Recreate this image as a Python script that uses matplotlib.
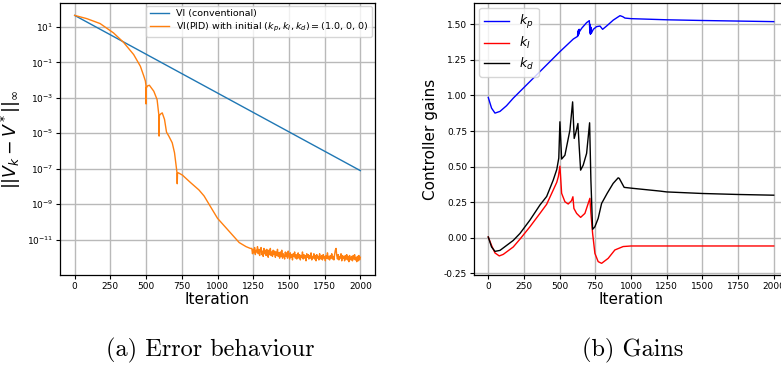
import numpy as np
import matplotlib
matplotlib.use('Agg')
import matplotlib.pyplot as plt
from matplotlib.ticker import NullLocator, FormatStrFormatter

# error of conventional VI (log10 of sup-norm error)
vi_iters = [0, 500, 1000, 1500, 2000]
vi_err_log = [1.65, -0.54, -2.73, -4.92, -7.11]

# error of VI(PID), transient part (log10)
pid_iters = [0, 84, 178, 272, 342, 413, 460, 483, 495, 499, 500, 501, 510, 523, 554, 577,
             586, 589, 591, 593, 601, 613, 629, 643, 659, 683, 699, 711, 716, 718, 720,
             725, 754, 812, 870, 906, 1000, 1117, 1152, 1200, 1230]
pid_err_log = [1.65, 1.47, 1.19, 0.66, 0.13, -0.56, -1.22, -1.75, -2.05, -2.3, -3.35, -2.45,
               -2.33, -2.29, -2.63, -3.10, -3.75, -3.95, -5.16, -4.0, -3.92, -3.85, -4.22,
               -4.94, -5.16, -5.54, -6.10, -6.85, -7.2, -7.85, -7.25, -7.23, -7.36, -7.79,
               -8.2, -8.54, -9.8, -10.85, -11.17, -11.4, -11.5]

# noise floor of VI(PID), every 5 iterations from 1240 to 2000 (log10)
floor_iters = list(range(1240, 2001, 5))
floor_err_log = [
    -11.5, -11.8, -11.55, -11.75, -11.45, -11.85, -11.6, -11.7, -11.4, -11.8,
    -11.55, -11.9, -11.6, -11.45, -11.85, -11.65, -11.95, -11.5, -11.8, -11.6,
    -11.9, -11.55, -11.75, -12.0, -11.6, -11.85, -11.5, -11.9, -11.7, -11.95,
    -11.6, -11.85, -11.65, -12.0, -11.7, -11.9, -11.55, -11.95, -11.75, -12.05,
    -11.7, -11.95, -11.6, -12.05, -11.8, -11.9, -12.1, -11.7, -11.95, -11.75,
    -12.05, -11.65, -11.9, -12.1, -11.75, -12.0, -11.85, -12.15, -11.8, -11.95,
    -11.7, -12.05, -11.85, -12.1, -11.9, -11.75, -12.05, -11.85, -12.15, -11.9,
    -12.0, -11.7, -12.1, -11.85, -12.05, -11.9, -12.2, -11.8, -12.0, -11.85,
    -12.1, -11.9, -12.05, -11.75, -12.15, -11.95, -12.05, -11.8, -12.1, -11.9,
    -12.2, -11.85, -12.05, -11.95, -12.15, -11.8, -12.0, -12.1, -11.9, -12.15,
    -11.85, -12.05, -11.95, -12.2, -11.9, -12.05, -11.75, -12.1, -11.95, -12.15,
    -11.9, -12.05, -11.8, -12.1, -11.95, -12.15, -11.85, -11.6, -11.5, -11.9,
    -12.1, -11.85, -12.15, -11.95, -12.05, -11.8, -12.2, -11.9, -12.05, -11.95,
    -12.2, -11.9, -12.1, -11.85, -12.15, -11.95, -12.25, -11.9, -12.05, -12.15,
    -11.95, -12.2, -11.9, -12.1, -11.85, -12.15, -12.0, -12.25, -11.95, -12.2,
    -11.9, -12.15, -12.0]

# controller gains
kp_iters = [0, 23, 47, 82, 128, 175, 292, 409, 502, 596, 625, 628, 630, 632, 634, 637, 640,
            654, 689, 708, 712, 714, 716, 719, 722, 736, 759, 783, 801, 829, 876, 923, 942,
            958, 1000, 1250, 1500, 1750, 2000]
kp_vals = [0.986, 0.911, 0.876, 0.888, 0.928, 0.981, 1.098, 1.215, 1.308, 1.397, 1.415, 1.45,
           1.42, 1.46, 1.43, 1.465, 1.45, 1.472, 1.512, 1.526, 1.44, 1.5, 1.43, 1.48, 1.437,
           1.465, 1.484, 1.488, 1.465, 1.488, 1.530, 1.561, 1.554, 1.544, 1.540, 1.532, 1.527,
           1.523, 1.519]

ki_iters = [0, 23, 47, 77, 105, 175, 222, 292, 362, 409, 455, 480, 491, 502, 514, 537, 560,
            583, 593, 600, 619, 647, 677, 712, 719, 731, 747, 770, 794, 840, 887, 945, 1000,
            1500, 2000]
ki_vals = [0.005, -0.054, -0.107, -0.128, -0.117, -0.065, -0.01, 0.077, 0.171, 0.235, 0.335,
           0.39, 0.43, 0.503, 0.312, 0.253, 0.237, 0.26, 0.288, 0.206, 0.171, 0.143, 0.171,
           0.277, 0.171, 0.031, -0.11, -0.168, -0.18, -0.145, -0.086, -0.062, -0.058, -0.058,
           -0.058]

kd_iters = [0, 23, 47, 82, 175, 222, 292, 362, 409, 455, 480, 494, 502, 514, 537, 572, 591,
            602, 612, 628, 637, 647, 665, 689, 710, 719, 731, 747, 770, 794, 833, 875, 910,
            918, 952, 1015, 1202, 1250, 1500, 1750, 2000]
kd_vals = [0.005, -0.065, -0.096, -0.089, -0.019, 0.03, 0.124, 0.23, 0.29, 0.405, 0.48, 0.56,
           0.815, 0.553, 0.58, 0.756, 0.955, 0.698, 0.733, 0.803, 0.64, 0.475, 0.51, 0.593,
           0.808, 0.405, 0.059, 0.077, 0.136, 0.241, 0.312, 0.382, 0.421, 0.417, 0.354, 0.347,
           0.328, 0.322, 0.311, 0.304, 0.299]

W, H = 781, 366
fig = plt.figure(figsize=(W / 100, H / 100), dpi=100)

grid_kw = dict(color='#b9b9b9', linewidth=1.0)
tick_fs = 6.5


def style_axes(ax):
    ax.grid(True, **grid_kw)
    ax.set_axisbelow(True)
    ax.tick_params(labelsize=tick_fs, length=3, width=0.8, pad=2)
    for s in ax.spines.values():
        s.set_linewidth(0.9)
    ax.set_xticks(range(0, 2001, 250))
    ax.set_xlim(-100, 2100)
    ax.set_xlabel('Iteration', fontsize=11, labelpad=1)


# (a) error behaviour
ax1 = fig.add_axes([60.4 / W, (H - 275) / H, 314.2 / W, 272 / H])
ax1.plot(vi_iters, 10.0 ** np.array(vi_err_log), color='#1f77b4', lw=1.0,
         label='VI (conventional)')
ax1.plot(pid_iters + floor_iters, 10.0 ** np.array(pid_err_log + floor_err_log),
         color='#ff7f0e', lw=1.0,
         label=r'VI(PID) with initial $(k_p, k_I, k_d) = $(1.0, 0, 0)')
ax1.set_yscale('log')
ax1.set_ylim(10 ** -13.0, 10 ** 2.35)
ax1.set_yticks([10.0 ** e for e in range(1, -12, -2)])
ax1.yaxis.set_minor_locator(NullLocator())
style_axes(ax1)
ax1.set_ylabel(r'$||V_k - V^*||_\infty$', fontsize=12.5, labelpad=3)
ax1.legend(loc='upper right', fontsize=6.8, borderaxespad=0.3, handlelength=2.0,
           labelspacing=0.3, borderpad=0.35, framealpha=0.8)

# (b) gains
ax2 = fig.add_axes([474 / W, (H - 275) / H, 314 / W, 272 / H])
ax2.plot(kp_iters, kp_vals, color='b', lw=1.0, label='$k_p$')
ax2.plot(ki_iters, ki_vals, color='r', lw=1.0, label='$k_I$')
ax2.plot(kd_iters, kd_vals, color='k', lw=1.0, label='$k_d$')
ax2.set_ylim(-0.262, 1.65)
ax2.set_yticks([-0.25, 0.0, 0.25, 0.5, 0.75, 1.0, 1.25, 1.5])
ax2.yaxis.set_major_formatter(FormatStrFormatter('%.2f'))
style_axes(ax2)
ax2.set_ylabel('Controller gains', fontsize=11, labelpad=4)
ax2.legend(loc='upper left', fontsize=9, borderaxespad=0.4, handlelength=2.0,
           labelspacing=0.35, framealpha=0.8)

# sub-captions
cap_font = dict(family='cmr10', fontsize=17.5, ha='center', va='center')
fig.text(210 / W, 1 - 350 / H, '(a) Error behaviour', **cap_font)
fig.text(633 / W, 1 - 350 / H, '(b) Gains', **cap_font)

fig.savefig('out.png', dpi=100)
